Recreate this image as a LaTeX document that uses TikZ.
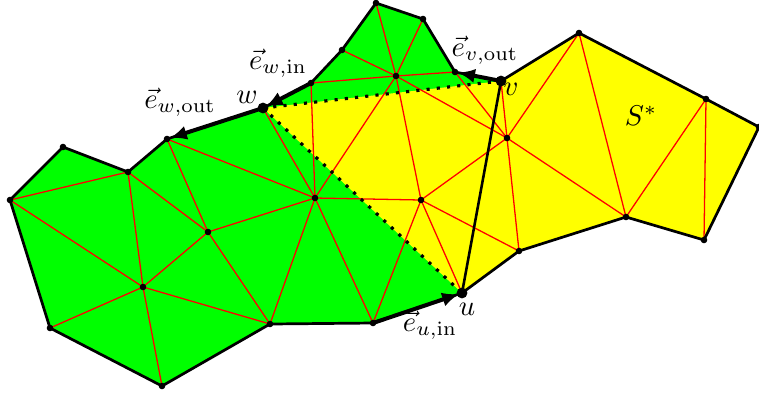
\documentclass[tikz,border=0pt]{standalone}
\usetikzlibrary{arrows.meta}
\definecolor{regA}{RGB}{0,255,0}
\definecolor{regB}{RGB}{255,255,0}
\definecolor{tri}{RGB}{255,0,0}
\tikzset{
  triedge/.style={draw=tri, line width=0.45pt},
  bound/.style={draw=black, line width=0.95pt, line join=round},
  orient/.style={draw=black, line width=1.4pt, -{Latex[length=6pt,width=5pt]}, shorten >=1pt},
  sep/.style={draw=black, line width=1.1pt, dash pattern=on 1.1pt off 2.5pt},
  chord/.style={draw=black, line width=0.9pt},
  lbl/.style={inner sep=0pt, font=\normalsize}
}
\begin{document}
\begin{tikzpicture}[x=0.35pt,y=-0.35pt]
\useasboundingbox (0,0) rectangle (759,394);
% outer boundary vertices
\coordinate (A1) at (10,200);
\coordinate (A2) at (63,147);
\coordinate (A3) at (128,172);
\coordinate (A4) at (167,139);
\coordinate (W) at (263,108);
\coordinate (A6) at (311,83);
\coordinate (A7) at (342,50);
\coordinate (A8) at (376,3);
\coordinate (A9) at (423,19);
\coordinate (A10) at (455,72);
\coordinate (V) at (501,81);
\coordinate (B1) at (579,33);
\coordinate (B2) at (706,99);
\coordinate (B3) at (759,127);
\coordinate (B4) at (704,240);
\coordinate (B5) at (626,217);
\coordinate (B6) at (519,251);
\coordinate (U) at (462,293);
\coordinate (C1) at (373,323);
\coordinate (C2) at (270,324);
\coordinate (C3) at (162,386);
\coordinate (C4) at (50,328);
% interior vertices
\coordinate (I1) at (143,287);
\coordinate (I2) at (208,232);
\coordinate (I3) at (315,198);
\coordinate (I4) at (421,200);
\coordinate (I5) at (396,76);
\coordinate (I6) at (507,138);
% regions
\fill[regA] (A1) -- (A2) -- (A3) -- (A4) -- (W) -- (A6) -- (A7) -- (A8) -- (A9) -- (A10) -- (V) -- (B1) -- (B2) -- (B3) -- (B4) -- (B5) -- (B6) -- (U) -- (C1) -- (C2) -- (C3) -- (C4) -- cycle;
\fill[regB] (W) -- (V) -- (B1) -- (B2) -- (B3) -- (B4) -- (B5) -- (B6) -- (U) -- cycle;
% triangulation
\foreach \p/\q in {A1/A3, A1/I1, A3/I1, A3/I2, A4/I2, A4/I3, I2/I3, I2/I1, I2/C2, I1/C4, I1/C3, I1/C2, C2/I3, W/I3, A6/I3, I3/I5, I3/I4, I3/C1, I4/C1, I4/U, I4/B6, I4/I6, I4/I5, I6/B6, I6/B5, I6/B1, I6/V, I5/I6, A10/I6, B1/B5, B5/B2, B2/B4, I5/A7, I5/A8, I5/A9, I5/A6, I5/A10}
  \draw[triedge] (\p) -- (\q);
% separators
\draw[sep] (W) -- (V);
\draw[sep] (W) -- (U);
\draw[chord] (V) -- (U);
% boundary
\draw[bound] (A1) -- (A2) -- (A3) -- (A4) -- (W) -- (A6) -- (A7) -- (A8) -- (A9) -- (A10) -- (V) -- (B1) -- (B2) -- (B3) -- (B4) -- (B5) -- (B6) -- (U) -- (C1) -- (C2) -- (C3) -- (C4) -- cycle;
% oriented edges
\draw[orient] (W) -- (A4);
\draw[orient] (A6) -- (W);
\draw[orient] (V) -- (A10);
\draw[orient] (C1) -- (U);
% vertex dots
\foreach \p in {A1,A2,A3,A4,A6,A7,A8,A9,A10,B1,B2,B3,B4,B5,B6,C1,C2,C3,C4,I1,I2,I3,I4,I5,I6}
  \fill (\p) circle[radius=1.15pt];
\foreach \p in {W,V,U}
  \fill (\p) circle[radius=1.9pt];
% labels
\node[lbl] (lwo) at (180,102) {$\vec{e}_{w,\mathrm{out}}$};
\node[lbl] (lwi) at (278,63) {$\vec{e}_{w,\mathrm{in}}$};
\node[lbl] (lvo) at (485,50) {$\vec{e}_{v,\mathrm{out}}$};
\node[lbl] (lui) at (430,325) {$\vec{e}_{u,\mathrm{in}}$};
\node[lbl] (lw) at (247,97) {$w$};
\node[lbl] (lv) at (511,89) {$v$};
\node[lbl] (lu) at (467,309) {$u$};
\node[lbl] (ls) at (641,116) {$S^*$};
\end{tikzpicture}
\end{document}
